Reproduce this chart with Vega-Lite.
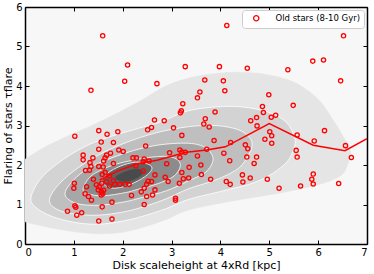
{
  "$schema": "https://vega.github.io/schema/vega-lite/v6.json",
  "width": 342,
  "height": 237,
  "autosize": {"type": "none"},
  "padding": {"left": 25, "top": 7, "right": 7, "bottom": 30},
  "config": {
    "font": "DejaVu Sans",
    "view": {"fill": "#f7f7f7", "stroke": null},
    "axis": {
      "grid": false,
      "domainColor": "black",
      "domainWidth": 1.5,
      "tickColor": "black",
      "tickWidth": 1,
      "tickSize": -4,
      "labelPadding": 7,
      "labelFontSize": 10,
      "labelColor": "black",
      "titleFontSize": 11,
      "titleFontWeight": "normal",
      "titleColor": "black",
      "zindex": 1
    }
  },
  "datasets": {
    "contours": [
      {"lv":1,"i":0,"x":-0.7,"y":0.9},{"lv":1,"i":1,"x":-0.5,"y":1.5},{"lv":1,"i":2,"x":-0.2,"y":1.95},{"lv":1,"i":3,"x":0.3,"y":2.38},{"lv":1,"i":4,"x":0.85,"y":2.72},{"lv":1,"i":5,"x":1.4,"y":3.02},{"lv":1,"i":6,"x":1.9,"y":3.32},{"lv":1,"i":7,"x":2.4,"y":3.65},{"lv":1,"i":8,"x":2.85,"y":3.98},{"lv":1,"i":9,"x":3.35,"y":4.2},{"lv":1,"i":10,"x":3.85,"y":4.31},{"lv":1,"i":11,"x":4.35,"y":4.35},{"lv":1,"i":12,"x":4.9,"y":4.3},{"lv":1,"i":13,"x":5.4,"y":4.15},{"lv":1,"i":14,"x":5.75,"y":3.92},{"lv":1,"i":15,"x":6.05,"y":3.6},{"lv":1,"i":16,"x":6.3,"y":3.15},{"lv":1,"i":17,"x":6.5,"y":2.75},{"lv":1,"i":18,"x":6.66,"y":2.35},{"lv":1,"i":19,"x":6.6,"y":2.0},{"lv":1,"i":20,"x":6.45,"y":1.72},{"lv":1,"i":21,"x":6.0,"y":1.5},{"lv":1,"i":22,"x":5.25,"y":1.3},{"lv":1,"i":23,"x":4.3,"y":1.1},{"lv":1,"i":24,"x":3.35,"y":0.86},{"lv":1,"i":25,"x":2.85,"y":0.6},{"lv":1,"i":26,"x":2.1,"y":0.32},{"lv":1,"i":27,"x":1.5,"y":0.26},{"lv":1,"i":28,"x":0.85,"y":0.34},{"lv":1,"i":29,"x":0.2,"y":0.5},{"lv":1,"i":30,"x":-0.3,"y":0.68},
      {"lv":2,"i":0,"x":0.12,"y":1.15},{"lv":2,"i":1,"x":0.3,"y":1.62},{"lv":2,"i":2,"x":0.68,"y":2.05},{"lv":2,"i":3,"x":1.2,"y":2.45},{"lv":2,"i":4,"x":1.7,"y":2.7},{"lv":2,"i":5,"x":2.3,"y":2.92},{"lv":2,"i":6,"x":2.8,"y":3.1},{"lv":2,"i":7,"x":3.3,"y":3.36},{"lv":2,"i":8,"x":3.9,"y":3.47},{"lv":2,"i":9,"x":4.45,"y":3.47},{"lv":2,"i":10,"x":5.0,"y":3.33},{"lv":2,"i":11,"x":5.35,"y":3.08},{"lv":2,"i":12,"x":5.52,"y":2.7},{"lv":2,"i":13,"x":5.5,"y":2.4},{"lv":2,"i":14,"x":5.3,"y":2.0},{"lv":2,"i":15,"x":4.75,"y":1.58},{"lv":2,"i":16,"x":4.0,"y":1.33},{"lv":2,"i":17,"x":3.35,"y":1.13},{"lv":2,"i":18,"x":2.9,"y":0.9},{"lv":2,"i":19,"x":2.4,"y":0.7},{"lv":2,"i":20,"x":2.0,"y":0.58},{"lv":2,"i":21,"x":1.5,"y":0.5},{"lv":2,"i":22,"x":1.0,"y":0.55},{"lv":2,"i":23,"x":0.55,"y":0.7},{"lv":2,"i":24,"x":0.25,"y":0.9},
      {"lv":3,"i":0,"x":0.5,"y":1.1},{"lv":3,"i":1,"x":0.65,"y":1.45},{"lv":3,"i":2,"x":1.0,"y":1.85},{"lv":3,"i":3,"x":1.5,"y":2.25},{"lv":3,"i":4,"x":2.05,"y":2.56},{"lv":3,"i":5,"x":2.7,"y":2.82},{"lv":3,"i":6,"x":3.35,"y":2.97},{"lv":3,"i":7,"x":3.9,"y":3.0},{"lv":3,"i":8,"x":4.35,"y":2.9},{"lv":3,"i":9,"x":4.58,"y":2.72},{"lv":3,"i":10,"x":4.65,"y":2.5},{"lv":3,"i":11,"x":4.55,"y":2.2},{"lv":3,"i":12,"x":4.35,"y":1.9},{"lv":3,"i":13,"x":3.9,"y":1.62},{"lv":3,"i":14,"x":3.35,"y":1.4},{"lv":3,"i":15,"x":2.9,"y":1.15},{"lv":3,"i":16,"x":2.5,"y":0.97},{"lv":3,"i":17,"x":2.05,"y":0.82},{"lv":3,"i":18,"x":1.5,"y":0.73},{"lv":3,"i":19,"x":1.0,"y":0.76},{"lv":3,"i":20,"x":0.65,"y":0.88},
      {"lv":4,"i":0,"x":0.82,"y":1.25},{"lv":4,"i":1,"x":0.98,"y":1.6},{"lv":4,"i":2,"x":1.35,"y":1.95},{"lv":4,"i":3,"x":2.05,"y":2.3},{"lv":4,"i":4,"x":2.7,"y":2.5},{"lv":4,"i":5,"x":3.35,"y":2.55},{"lv":4,"i":6,"x":3.7,"y":2.43},{"lv":4,"i":7,"x":3.85,"y":2.15},{"lv":4,"i":8,"x":3.7,"y":1.82},{"lv":4,"i":9,"x":3.35,"y":1.6},{"lv":4,"i":10,"x":2.9,"y":1.35},{"lv":4,"i":11,"x":2.4,"y":1.18},{"lv":4,"i":12,"x":2.05,"y":1.07},{"lv":4,"i":13,"x":1.5,"y":0.98},{"lv":4,"i":14,"x":1.05,"y":1.03},
      {"lv":5,"i":0,"x":1.19,"y":1.4},{"lv":5,"i":1,"x":1.35,"y":1.72},{"lv":5,"i":2,"x":1.7,"y":1.95},{"lv":5,"i":3,"x":2.05,"y":2.08},{"lv":5,"i":4,"x":2.6,"y":2.2},{"lv":5,"i":5,"x":3.0,"y":2.2},{"lv":5,"i":6,"x":3.18,"y":2.02},{"lv":5,"i":7,"x":3.05,"y":1.72},{"lv":5,"i":8,"x":2.7,"y":1.52},{"lv":5,"i":9,"x":2.3,"y":1.38},{"lv":5,"i":10,"x":2.05,"y":1.3},{"lv":5,"i":11,"x":1.6,"y":1.22},{"lv":5,"i":12,"x":1.3,"y":1.27},
      {"lv":6,"i":0,"x":1.57,"y":1.6},{"lv":6,"i":1,"x":1.7,"y":1.8},{"lv":6,"i":2,"x":1.95,"y":1.97},{"lv":6,"i":3,"x":2.25,"y":2.07},{"lv":6,"i":4,"x":2.5,"y":2.03},{"lv":6,"i":5,"x":2.6,"y":1.92},{"lv":6,"i":6,"x":2.5,"y":1.75},{"lv":6,"i":7,"x":2.25,"y":1.56},{"lv":6,"i":8,"x":1.95,"y":1.43},{"lv":6,"i":9,"x":1.72,"y":1.43},
      {"lv":7,"i":0,"x":1.85,"y":1.68},{"lv":7,"i":1,"x":2.05,"y":1.83},{"lv":7,"i":2,"x":2.3,"y":1.9},{"lv":7,"i":3,"x":2.42,"y":1.82},{"lv":7,"i":4,"x":2.3,"y":1.68},{"lv":7,"i":5,"x":2.05,"y":1.58}
    ],
    "trend": [
      {"x":1.53,"y":1.62},{"x":1.9,"y":1.85},{"x":2.3,"y":2.03},{"x":2.7,"y":2.12},{"x":3.3,"y":2.32},{"x":3.72,"y":2.38},{"x":4.1,"y":2.46},{"x":5.0,"y":3.05},{"x":5.9,"y":2.5},{"x":6.55,"y":2.36},{"x":7.0,"y":2.67}
    ],
    "stars": [
      {"x":1.59,"y":5.27},{"x":1.35,"y":3.89},{"x":2.10,"y":4.53},{"x":2.04,"y":4.12},{"x":2.70,"y":4.06},{"x":3.28,"y":4.49},{"x":3.23,"y":3.55},{"x":3.20,"y":3.37},{"x":3.18,"y":3.32},{"x":2.65,"y":3.14},
      {"x":2.85,"y":3.12},{"x":2.59,"y":2.95},{"x":2.51,"y":2.89},{"x":3.04,"y":2.94},{"x":1.51,"y":2.87},{"x":1.68,"y":2.78},{"x":1.90,"y":2.84},{"x":1.02,"y":2.73},{"x":3.21,"y":2.75},{"x":4.13,"y":5.53},
      {"x":6.52,"y":5.27},{"x":5.89,"y":4.63},{"x":6.11,"y":4.66},{"x":3.98,"y":4.49},{"x":4.55,"y":4.45},{"x":5.38,"y":4.41},{"x":6.46,"y":4.13},{"x":3.68,"y":4.15},{"x":4.06,"y":4.13},{"x":4.09,"y":3.88},
      {"x":3.58,"y":3.85},{"x":3.53,"y":3.70},{"x":4.99,"y":3.78},{"x":3.89,"y":3.34},{"x":4.86,"y":3.48},{"x":5.49,"y":3.51},{"x":4.88,"y":3.33},{"x":5.13,"y":3.26},{"x":5.04,"y":3.21},{"x":4.74,"y":3.20},
      {"x":4.62,"y":3.12},{"x":3.69,"y":3.17},{"x":3.66,"y":3.04},{"x":3.77,"y":2.96},{"x":4.75,"y":2.99},{"x":5.01,"y":2.84},{"x":6.13,"y":2.87},{"x":5.05,"y":2.74},{"x":5.57,"y":2.76},{"x":5.05,"y":2.55},
      {"x":4.91,"y":2.65},{"x":5.92,"y":2.61},{"x":6.56,"y":2.49},{"x":6.68,"y":2.19},{"x":5.55,"y":2.37},{"x":5.57,"y":2.20},{"x":4.51,"y":2.51},{"x":4.56,"y":2.41},{"x":4.54,"y":2.20},{"x":4.74,"y":2.20},
      {"x":4.69,"y":2.04},{"x":4.21,"y":2.57},{"x":4.07,"y":2.30},{"x":4.19,"y":2.11},{"x":3.87,"y":2.62},{"x":3.72,"y":2.40},{"x":3.53,"y":2.23},{"x":3.60,"y":2.00},{"x":3.61,"y":1.76},{"x":3.80,"y":1.64},
      {"x":4.12,"y":1.58},{"x":4.20,"y":1.51},{"x":4.45,"y":1.75},{"x":4.46,"y":1.57},{"x":4.61,"y":1.67},{"x":4.96,"y":1.64},{"x":5.20,"y":1.41},{"x":5.64,"y":1.47},{"x":5.90,"y":1.77},{"x":5.87,"y":1.64},
      {"x":5.90,"y":1.52},{"x":6.42,"y":1.53},{"x":3.36,"y":1.94},{"x":3.35,"y":1.67},{"x":3.24,"y":1.65},{"x":1.56,"y":2.58},{"x":1.81,"y":2.57},{"x":1.92,"y":2.38},{"x":2.01,"y":2.34},{"x":1.75,"y":2.30},
      {"x":2.47,"y":2.48},{"x":2.96,"y":2.31},{"x":3.17,"y":2.38},{"x":3.21,"y":2.33},{"x":3.28,"y":2.32},{"x":3.17,"y":2.19},{"x":3.21,"y":1.81},{"x":3.16,"y":1.54},{"x":2.93,"y":1.58},{"x":2.87,"y":1.69},
      {"x":3.08,"y":1.16},{"x":3.08,"y":1.11},{"x":2.44,"y":1.00},{"x":2.61,"y":1.24},{"x":2.49,"y":1.20},{"x":2.38,"y":1.32},{"x":2.66,"y":1.75},{"x":2.59,"y":1.58},{"x":2.52,"y":1.59},{"x":2.44,"y":1.41},
      {"x":2.90,"y":2.03},{"x":2.42,"y":2.08},{"x":2.44,"y":2.15},{"x":2.54,"y":2.10},{"x":2.27,"y":1.98},{"x":2.21,"y":2.18},{"x":2.28,"y":2.18},{"x":2.18,"y":1.23},{"x":2.13,"y":1.51},{"x":2.05,"y":1.51},
      {"x":1.94,"y":1.51},{"x":1.84,"y":1.51},{"x":1.73,"y":1.47},{"x":1.81,"y":1.60},{"x":1.73,"y":1.72},{"x":1.64,"y":1.81},{"x":1.81,"y":2.04},{"x":1.64,"y":2.18},{"x":1.61,"y":2.10},{"x":1.60,"y":1.95},
      {"x":1.51,"y":1.96},{"x":1.39,"y":2.18},{"x":1.19,"y":2.25},{"x":1.19,"y":2.13},{"x":1.33,"y":2.06},{"x":1.35,"y":1.96},{"x":1.32,"y":1.87},{"x":1.24,"y":1.86},{"x":1.58,"y":1.76},{"x":1.40,"y":1.64},
      {"x":1.46,"y":1.50},{"x":1.52,"y":1.44},{"x":1.50,"y":1.37},{"x":1.57,"y":1.32},{"x":1.56,"y":1.24},{"x":1.59,"y":1.27},{"x":1.61,"y":1.36},{"x":1.26,"y":1.45},{"x":1.23,"y":1.27},{"x":1.30,"y":1.20},
      {"x":1.36,"y":1.11},{"x":1.01,"y":1.54},{"x":1.00,"y":1.41},{"x":1.02,"y":0.97},{"x":1.04,"y":0.93},{"x":0.87,"y":0.83},{"x":1.06,"y":0.73},{"x":1.16,"y":0.79},{"x":1.58,"y":0.94},{"x":1.78,"y":1.06},
      {"x":1.51,"y":0.58},{"x":1.78,"y":0.63},{"x":1.51,"y":2.40},{"x":2.42,"y":1.85},{"x":1.67,"y":1.58},{"x":1.57,"y":1.54},{"x":2.49,"y":1.51},{"x":1.67,"y":2.25},{"x":2.66,"y":1.37}
    ]
  },
  "layer": [
    {"data": {"name": "contours"}, "transform": [{"filter": "datum.lv == 1"}],
     "mark": {"type": "line", "fill": "#e5e5e5", "stroke": "#e5e5e5", "strokeWidth": 0.5, "interpolate": "cardinal-closed", "clip": true},
     "encoding": {"x": {"field": "x", "type": "quantitative", "scale": {"domain": [0, 7], "nice": false}, "axis": null},
                  "y": {"field": "y", "type": "quantitative", "scale": {"domain": [0, 6], "nice": false}, "axis": null},
                  "order": {"field": "i"}}},
    {"data": {"name": "contours"}, "transform": [{"filter": "datum.lv == 2"}],
     "mark": {"type": "line", "fill": "#d3d3d3", "stroke": "white", "strokeWidth": 0.8, "interpolate": "cardinal-closed", "clip": true},
     "encoding": {"x": {"field": "x", "type": "quantitative", "axis": null}, "y": {"field": "y", "type": "quantitative", "axis": null}, "order": {"field": "i"}}},
    {"data": {"name": "contours"}, "transform": [{"filter": "datum.lv == 3"}],
     "mark": {"type": "line", "fill": "#bfbfbf", "stroke": "white", "strokeWidth": 0.8, "interpolate": "cardinal-closed", "clip": true},
     "encoding": {"x": {"field": "x", "type": "quantitative", "axis": null}, "y": {"field": "y", "type": "quantitative", "axis": null}, "order": {"field": "i"}}},
    {"data": {"name": "contours"}, "transform": [{"filter": "datum.lv == 4"}],
     "mark": {"type": "line", "fill": "#a7a7a7", "stroke": "white", "strokeWidth": 0.8, "interpolate": "cardinal-closed", "clip": true},
     "encoding": {"x": {"field": "x", "type": "quantitative", "axis": null}, "y": {"field": "y", "type": "quantitative", "axis": null}, "order": {"field": "i"}}},
    {"data": {"name": "contours"}, "transform": [{"filter": "datum.lv == 5"}],
     "mark": {"type": "line", "fill": "#8b8b8b", "stroke": "white", "strokeWidth": 0.8, "interpolate": "cardinal-closed", "clip": true},
     "encoding": {"x": {"field": "x", "type": "quantitative", "axis": null}, "y": {"field": "y", "type": "quantitative", "axis": null}, "order": {"field": "i"}}},
    {"data": {"name": "contours"}, "transform": [{"filter": "datum.lv == 6"}],
     "mark": {"type": "line", "fill": "#626262", "stroke": "white", "strokeWidth": 0.8, "interpolate": "cardinal-closed", "clip": true},
     "encoding": {"x": {"field": "x", "type": "quantitative", "axis": null}, "y": {"field": "y", "type": "quantitative", "axis": null}, "order": {"field": "i"}}},
    {"data": {"name": "contours"}, "transform": [{"filter": "datum.lv == 7"}],
     "mark": {"type": "line", "fill": "#4a4a4a", "stroke": "#4a4a4a", "strokeWidth": 0.5, "interpolate": "cardinal-closed", "clip": true},
     "encoding": {"x": {"field": "x", "type": "quantitative", "axis": null}, "y": {"field": "y", "type": "quantitative", "axis": null}, "order": {"field": "i"}}},
    {"data": {"name": "trend"},
     "mark": {"type": "line", "color": "red", "strokeWidth": 1.5, "clip": true},
     "encoding": {"x": {"field": "x", "type": "quantitative", "axis": {"orient": "top", "values": [0,1,2,3,4,5,6,7], "labels": false, "title": null}},
                  "y": {"field": "y", "type": "quantitative", "axis": {"orient": "right", "values": [0,1,2,3,4,5,6], "labels": false, "title": null}}}},
    {"data": {"name": "stars"},
     "mark": {"type": "point", "shape": "circle", "filled": false, "size": 18, "strokeWidth": 1.3, "opacity": 1, "clip": true},
     "encoding": {"x": {"field": "x", "type": "quantitative", "axis": {"orient": "bottom", "values": [0,1,2,3,4,5,6,7], "format": "d", "title": "Disk scaleheight at 4xRd [kpc]", "titlePadding": 2}},
                  "y": {"field": "y", "type": "quantitative", "axis": {"orient": "left", "values": [0,1,2,3,4,5,6], "format": "d", "title": "Flaring of stars τflare", "titlePadding": 2}},
                  "color": {"datum": "Old stars (8-10 Gyr)", "type": "nominal", "scale": {"range": ["red"]},
                            "legend": {"title": null, "orient": "top-right", "offset": 3, "padding": 4, "fillColor": "white", "strokeColor": "#cccccc", "cornerRadius": 3, "labelFontSize": 8.5, "labelColor": "black", "symbolSize": 28, "symbolStrokeWidth": 1.3, "symbolOffset": 6, "labelOffset": 15, "symbolType": "circle"}}}}
  ],
  "resolve": {"axis": {"x": "independent", "y": "independent"}}
}
